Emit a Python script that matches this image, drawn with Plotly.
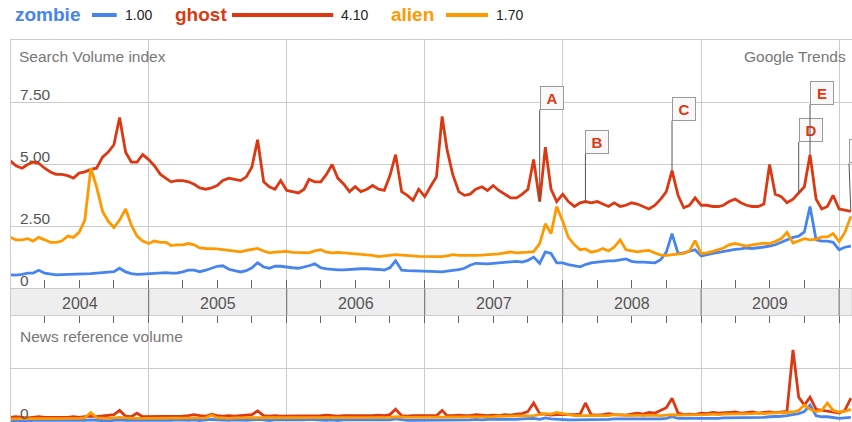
import plotly.graph_objects as go

W, H = 852, 422
FONT = "Liberation Sans, Arial, Helvetica, sans-serif"

# ---------------- data ----------------
series_names = ["zombie", "ghost", "alien"]
series_colors = ["#4684ee", "#dc3912", "#ff9900"]
legend_values = [1.00, 4.10, 1.70]

# Search volume index, semi-monthly samples from 2004-01-01
zombie = [0.53, 0.52, 0.55, 0.6, 0.6, 0.72, 0.6, 0.57, 0.53, 0.54, 0.55, 0.55, 0.56, 0.55, 0.58, 0.6, 0.62, 0.64, 0.66, 0.8, 0.65, 0.58, 0.55, 0.56,
          0.58, 0.6, 0.6, 0.62, 0.6, 0.6, 0.65, 0.72, 0.72, 0.66, 0.72, 0.8, 0.88, 0.9, 0.76, 0.7, 0.65, 0.7, 0.82, 1.02, 0.85, 0.8, 0.88, 0.88,
          0.84, 0.82, 0.8, 0.84, 0.9, 0.98, 0.82, 0.77, 0.74, 0.73, 0.73, 0.75, 0.77, 0.78, 0.78, 0.78, 0.75, 0.73, 0.82, 1.1, 0.72, 0.7, 0.7, 0.69,
          0.68, 0.67, 0.66, 0.65, 0.68, 0.7, 0.74, 0.8, 0.92, 1.0, 0.98, 0.98, 1.0, 1.02, 1.05, 1.08, 1.08, 1.05, 1.12, 1.25, 1.0, 1.46, 1.4, 1.02,
          1.02, 0.95, 0.9, 0.86, 0.95, 1.02, 1.05, 1.08, 1.1, 1.1, 1.13, 1.18, 1.08, 1.05, 1.05, 1.04, 1.02, 1.15, 1.45, 2.2, 1.4, 1.42, 1.48, 1.55,
          1.3, 1.36, 1.4, 1.44, 1.48, 1.52, 1.56, 1.58, 1.62, 1.6, 1.62, 1.66, 1.7, 1.75, 1.85, 1.94, 2.05, 2.1, 2.27, 3.3, 1.95, 1.9, 1.9, 1.85, 1.55, 1.65, 1.7]

ghost = [5.15, 4.95, 4.85, 5.0, 5.1, 5.05, 4.85, 4.7, 4.6, 4.6, 4.55, 4.45, 4.65, 4.7, 4.8, 4.85, 5.3, 5.5, 5.8, 6.9, 5.5, 5.1, 5.1, 5.4,
         5.2, 4.95, 4.6, 4.45, 4.3, 4.35, 4.35, 4.3, 4.2, 4.05, 4.0, 4.05, 4.15, 4.35, 4.45, 4.4, 4.35, 4.5, 4.9, 6.0, 4.3, 4.1, 4.0, 4.35,
         3.95, 3.9, 3.85, 4.0, 4.4, 4.3, 4.3, 4.6, 5.0, 4.45, 4.2, 3.9, 4.1, 3.9, 4.0, 4.15, 4.0, 3.95, 4.55, 5.4, 3.9, 3.75, 3.55, 4.0,
         3.7, 4.1, 4.5, 6.95, 5.6, 4.6, 3.9, 3.75, 3.8, 4.0, 4.1, 3.95, 4.15, 3.95, 3.8, 3.65, 3.65, 3.8, 4.0, 5.2, 3.5, 5.7, 4.0, 3.5,
         3.8, 3.5, 3.3, 3.45, 3.5, 3.45, 3.5, 3.4, 3.3, 3.45, 3.3, 3.35, 3.45, 3.4, 3.3, 3.2, 3.35, 3.6, 3.9, 4.75, 3.75, 3.25, 3.35, 3.65,
         3.35, 3.35, 3.3, 3.3, 3.35, 3.5, 3.6, 3.45, 3.35, 3.3, 3.3, 3.4, 5.0, 3.8, 3.7, 3.45, 3.6, 3.85, 4.1, 5.4, 3.6, 3.2, 3.3, 3.75, 3.2, 3.15, 3.1]

alien = [2.05, 1.95, 1.95, 2.0, 1.9, 2.05, 1.95, 1.85, 1.85, 1.9, 2.1, 2.05, 2.25, 2.75, 4.85, 4.1, 3.1, 2.7, 2.45, 2.75, 3.2, 2.55, 2.1, 1.9,
         1.8, 1.9, 1.85, 1.85, 1.72, 1.75, 1.75, 1.8, 1.75, 1.62, 1.6, 1.6, 1.58, 1.55, 1.52, 1.5, 1.46, 1.52, 1.55, 1.6, 1.5, 1.42, 1.45, 1.46,
         1.48, 1.44, 1.42, 1.43, 1.42, 1.5, 1.55, 1.45, 1.42, 1.44, 1.42, 1.4, 1.38, 1.37, 1.35, 1.32, 1.27, 1.3, 1.33, 1.35, 1.33, 1.3, 1.3, 1.28,
         1.27, 1.28, 1.27, 1.27, 1.3, 1.35, 1.32, 1.33, 1.32, 1.32, 1.33, 1.34, 1.35, 1.38, 1.42, 1.46, 1.42, 1.42, 1.45, 1.47, 1.8, 2.6, 2.2, 3.3,
         2.7, 2.05, 1.75, 1.55, 1.58, 1.45, 1.5, 1.6, 1.5, 1.65, 1.95, 1.55, 1.5, 1.46, 1.5, 1.52, 1.42, 1.33, 1.32, 1.35, 1.38, 1.4, 1.5, 1.92,
         1.4, 1.42, 1.48, 1.55, 1.62, 1.75, 1.8, 1.75, 1.7, 1.75, 1.8, 1.82, 1.8, 1.88, 2.0, 2.25, 1.82, 1.92, 2.0, 1.95, 1.98, 2.07, 2.07, 2.2, 1.88, 2.25, 2.9]

# News reference volume (same sampling)
news_zombie = [0.01, 0.0, 0.01, 0.0, 0.01, 0.01, 0.0, 0.01, 0.0, 0.01, 0.01, 0.0, 0.01, 0.01, 0.02, 0.01, 0.01, 0.0, 0.01, 0.02, 0.01, 0.01, 0.0, 0.01,
               0.01, 0.01, 0.0, 0.01, 0.01, 0.02, 0.01, 0.01, 0.02, 0.01, 0.02, 0.03, 0.02, 0.01, 0.01, 0.02, 0.01, 0.01, 0.02, 0.03, 0.02, 0.01, 0.02, 0.02,
               0.02, 0.01, 0.02, 0.02, 0.03, 0.02, 0.02, 0.01, 0.02, 0.01, 0.02, 0.02, 0.01, 0.02, 0.02, 0.01, 0.02, 0.02, 0.02, 0.04, 0.02, 0.01, 0.01, 0.01,
               0.01, 0.01, 0.02, 0.02, 0.01, 0.01, 0.02, 0.02, 0.02, 0.03, 0.02, 0.03, 0.03, 0.02, 0.03, 0.03, 0.03, 0.04, 0.04, 0.05, 0.03, 0.06, 0.04, 0.03,
               0.03, 0.02, 0.02, 0.02, 0.03, 0.03, 0.03, 0.03, 0.03, 0.04, 0.04, 0.03, 0.03, 0.03, 0.03, 0.04, 0.03, 0.04, 0.05, 0.08, 0.05, 0.05, 0.05, 0.05,
               0.04, 0.05, 0.05, 0.05, 0.06, 0.06, 0.06, 0.06, 0.07, 0.07, 0.07, 0.07, 0.08, 0.08, 0.09, 0.1, 0.12, 0.14, 0.18, 0.3, 0.1, 0.08, 0.08, 0.07, 0.05, 0.06, 0.07]

news_ghost = [0.07, 0.08, 0.07, 0.06, 0.07, 0.08, 0.07, 0.07, 0.06, 0.07, 0.07, 0.08, 0.07, 0.08, 0.09, 0.08, 0.09, 0.1, 0.12, 0.2, 0.09, 0.08, 0.15, 0.08,
              0.08, 0.09, 0.08, 0.08, 0.09, 0.08, 0.09, 0.1, 0.12, 0.1, 0.09, 0.13, 0.1, 0.09, 0.1, 0.09, 0.1, 0.11, 0.12, 0.19, 0.1, 0.09, 0.1, 0.09,
              0.09, 0.1, 0.09, 0.1, 0.1, 0.09, 0.1, 0.11, 0.1, 0.09, 0.1, 0.1, 0.1, 0.09, 0.1, 0.1, 0.11, 0.1, 0.12, 0.22, 0.1, 0.09, 0.1, 0.1,
              0.1, 0.11, 0.1, 0.2, 0.1, 0.1, 0.11, 0.1, 0.1, 0.12, 0.11, 0.1, 0.11, 0.1, 0.12, 0.11, 0.13, 0.14, 0.18, 0.34, 0.14, 0.12, 0.11, 0.12,
              0.12, 0.11, 0.12, 0.13, 0.34, 0.12, 0.11, 0.12, 0.14, 0.12, 0.12, 0.11, 0.13, 0.15, 0.13, 0.16, 0.15, 0.2, 0.25, 0.43, 0.15, 0.12, 0.13, 0.12,
              0.15, 0.14, 0.16, 0.15, 0.15, 0.16, 0.17, 0.15, 0.16, 0.17, 0.15, 0.16, 0.17, 0.16, 0.17, 0.18, 1.34, 0.45, 0.3, 0.45, 0.22, 0.2, 0.18, 0.17, 0.15, 0.2, 0.43]

news_alien = [0.04, 0.04, 0.05, 0.04, 0.04, 0.05, 0.04, 0.04, 0.05, 0.04, 0.05, 0.05, 0.05, 0.06, 0.16, 0.06, 0.05, 0.05, 0.06, 0.07, 0.06, 0.05, 0.05, 0.05,
              0.05, 0.05, 0.06, 0.05, 0.06, 0.06, 0.05, 0.06, 0.06, 0.05, 0.06, 0.11, 0.06, 0.06, 0.05, 0.06, 0.06, 0.06, 0.06, 0.07, 0.06, 0.06, 0.06, 0.06,
              0.06, 0.06, 0.07, 0.06, 0.06, 0.07, 0.07, 0.06, 0.07, 0.07, 0.06, 0.07, 0.07, 0.07, 0.06, 0.07, 0.07, 0.07, 0.07, 0.08, 0.07, 0.07, 0.07, 0.07,
              0.07, 0.07, 0.08, 0.07, 0.07, 0.07, 0.08, 0.08, 0.07, 0.08, 0.08, 0.08, 0.08, 0.09, 0.09, 0.09, 0.1, 0.1, 0.1, 0.1, 0.12, 0.14, 0.13, 0.16,
              0.14, 0.12, 0.1, 0.1, 0.1, 0.09, 0.1, 0.1, 0.1, 0.12, 0.11, 0.1, 0.1, 0.11, 0.1, 0.11, 0.1, 0.1, 0.11, 0.12, 0.11, 0.11, 0.12, 0.12,
              0.12, 0.12, 0.13, 0.12, 0.13, 0.13, 0.14, 0.13, 0.14, 0.14, 0.15, 0.14, 0.15, 0.15, 0.16, 0.16, 0.17, 0.2, 0.3, 0.22, 0.18, 0.2, 0.34, 0.2, 0.17, 0.18, 0.22]

search_ticks = [0, 2.5, 5, 7.5]
search_tick_labels = ["0", "2.50", "5.00", "7.50"]
news_ticks = [0, 1]
news_tick_labels = ["0", ""]
year_labels = [2004, 2005, 2006, 2007, 2008, 2009]
year_bounds = [2005, 2006, 2007, 2008, 2009, 2010]
event_labels = ["A", "B", "C", "D", "E", "F"]
event_index = [92, 100, 115, 137, 139, 146]

# semi-monthly sample dates
dates = [f"{y}-{m:02d}-{d:02d}" for y in range(2004, 2011) for m in range(1, 13) for d in (1, 16)][:len(ghost)]

# ---------------- layout helpers ----------------
def px_x(p):
    return p / W

def px_y(p):
    return 1 - p / H

X_DOMAIN = [px_x(10.5), 1]
MAIN_DOMAIN = [px_y(288), px_y(40)]
NEWS_DOMAIN = [0, px_y(315.5)]
MAIN_PX_PER_UNIT = 24.7
NEWS_PX_PER_UNIT = 53.0
X_RANGE = ["2004-01-01 12:00", "2010-02-04"]
LINE_W = 2.8

fig = go.Figure()

main_series = [zombie, ghost, alien]
news_series = [news_zombie, news_ghost, news_alien]
for name, col, vals in zip(series_names, series_colors, main_series):
    fig.add_trace(go.Scatter(x=dates, y=vals, mode="lines", name=name,
                             line=dict(color=col, width=LINE_W), xaxis="x", yaxis="y",
                             hoverinfo="skip", showlegend=False))
for name, col, vals in zip(series_names, series_colors, news_series):
    fig.add_trace(go.Scatter(x=dates, y=vals, mode="lines", name=name + " news",
                             line=dict(color=col, width=LINE_W), xaxis="x2", yaxis="y2",
                             hoverinfo="skip", showlegend=False))

year_tickvals = [f"{y}-01-01" for y in year_bounds]
minor = dict(tickmode="linear", tick0="2004-01-01", dtick="M3", ticks="inside",
             tickcolor="#666666", tickwidth=1, showgrid=False)

fig.update_layout(
    width=W, height=H,
    margin=dict(l=0, r=0, t=0, b=0),
    paper_bgcolor="white", plot_bgcolor="white",
    font=dict(family=FONT, size=15, color="#444"),
    showlegend=False,
    xaxis=dict(domain=X_DOMAIN, range=X_RANGE, type="date", anchor="y",
               showline=True, linecolor="#cccccc", mirror=True,
               tickmode="array", tickvals=year_tickvals, ticks="inside", ticklen=8,
               tickcolor="#666666", tickwidth=1, showticklabels=False,
               showgrid=True, gridcolor="#cccccc", gridwidth=1, zeroline=False,
               minor=dict(minor, ticklen=8)),
    yaxis=dict(domain=MAIN_DOMAIN, range=[0, (288 - 40) / MAIN_PX_PER_UNIT], anchor="x",
               showline=True, linecolor="#cccccc", tickmode="array", tickvals=search_ticks[1:],
               showgrid=True, gridcolor="#cccccc", showticklabels=False, zeroline=False, ticks=""),
    xaxis2=dict(domain=X_DOMAIN, range=X_RANGE, type="date", anchor="y2", side="top",
                showline=False, tickmode="array", tickvals=year_tickvals, ticks="inside", ticklen=7,
                tickcolor="#666666", tickwidth=1, showticklabels=False,
                showgrid=True, gridcolor="#cccccc", gridwidth=1, zeroline=False,
                minor=dict(minor, ticklen=7)),
    yaxis2=dict(domain=NEWS_DOMAIN, range=[-1 / NEWS_PX_PER_UNIT, (421 - 315.5) / NEWS_PX_PER_UNIT],
                anchor="x2", showline=True, linecolor="#cccccc", tickmode="array", tickvals=news_ticks[1:],
                showgrid=True, gridcolor="#cccccc", showticklabels=False, zeroline=False, ticks=""),
)

shapes = []
# date band between the panels
shapes.append(dict(type="rect", xref="paper", yref="paper", x0=X_DOMAIN[0], x1=1,
                   y0=px_y(315.5), y1=px_y(288.5), fillcolor="#eeeeee",
                   line=dict(color="#cccccc", width=1), layer="above"))
for yb in year_bounds:
    shapes.append(dict(type="line", xref="x", yref="paper", x0=f"{yb}-01-01", x1=f"{yb}-01-01",
                       y0=px_y(315.5), y1=px_y(288.5), line=dict(color="#666666", width=1)))

annotations = []
# legend row
name_x = [13, 173, 389]
bar_x = [92, 232, 446]
for name, col, val, nx, bx in zip(series_names, series_colors, legend_values, name_x, bar_x):
    annotations.append(dict(text=name, xref="paper", yref="paper", x=px_x(nx), y=px_y(14),
                            xanchor="left", yanchor="middle", showarrow=False,
                            font=dict(family=FONT, size=19, color=col, weight="bold")))
    bar_end = bx + val * MAIN_PX_PER_UNIT
    shapes.append(dict(type="line", xref="paper", yref="paper", x0=px_x(bx), x1=px_x(bar_end),
                       y0=px_y(15), y1=px_y(15), line=dict(color=col, width=4)))
    annotations.append(dict(text=f"{val:.2f}", xref="paper", yref="paper", x=px_x(bar_end + 6),
                            y=px_y(15), xanchor="left", yanchor="middle", showarrow=False,
                            font=dict(family=FONT, size=14, color="#222222")))

# panel titles
annotations.append(dict(text="Search Volume index", xref="paper", yref="paper", x=px_x(17), y=px_y(56),
                        xanchor="left", yanchor="middle", showarrow=False,
                        font=dict(family=FONT, size=15.5, color="#777777")))
annotations.append(dict(text="Google Trends", xref="paper", yref="paper", x=px_x(848), y=px_y(56),
                        xanchor="right", yanchor="middle", showarrow=False,
                        font=dict(family=FONT, size=15.5, color="#777777")))
annotations.append(dict(text="News reference volume", xref="paper", yref="paper", x=px_x(18), y=px_y(336.5),
                        xanchor="left", yanchor="middle", showarrow=False,
                        font=dict(family=FONT, size=15.5, color="#777777")))

# y tick labels (drawn inside, above gridlines)
for v, lab in zip(search_ticks, search_tick_labels):
    annotations.append(dict(text=lab, xref="paper", yref="y", x=px_x(18), y=v, yshift=8,
                            xanchor="left", yanchor="middle", showarrow=False,
                            font=dict(family=FONT, size=15.5, color="#555555")))
for v, lab in zip(news_ticks, news_tick_labels):
    if lab:
        annotations.append(dict(text=lab, xref="paper", yref="y2", x=px_x(18), y=v, yshift=8,
                                xanchor="left", yanchor="middle", showarrow=False,
                                font=dict(family=FONT, size=15.5, color="#555555")))

# year labels in the band
for yl in year_labels:
    annotations.append(dict(text=str(yl), xref="x", yref="paper", x=f"{yl}-07-02", y=px_y(303.5),
                            xanchor="center", yanchor="middle", showarrow=False,
                            font=dict(family=FONT, size=16, color="#555555")))

# event flags on the ghost series
event_offsets = [-92, -48, -50, -51, -50, -48]
for lab, idx, off in zip(event_labels, event_index, event_offsets):
    annotations.append(dict(text=lab, xref="x", yref="y", x=dates[idx], y=ghost[idx],
                            showarrow=True, arrowhead=0, arrowwidth=1, arrowcolor="#555555",
                            ax=0, ay=off, standoff=0, xanchor="left", yanchor="bottom",
                            width=18, height=18, borderpad=2, borderwidth=1,
                            bordercolor="#9a9a9a", bgcolor="#f8f8f8",
                            font=dict(family=FONT, size=15, color="#dc3912", weight="bold")))

fig.update_layout(shapes=shapes, annotations=annotations)

fig.write_html("out.html", include_plotlyjs=True, config={"displayModeBar": False},
               post_script="document.body.style.margin='0';document.body.style.overflow='hidden';")
